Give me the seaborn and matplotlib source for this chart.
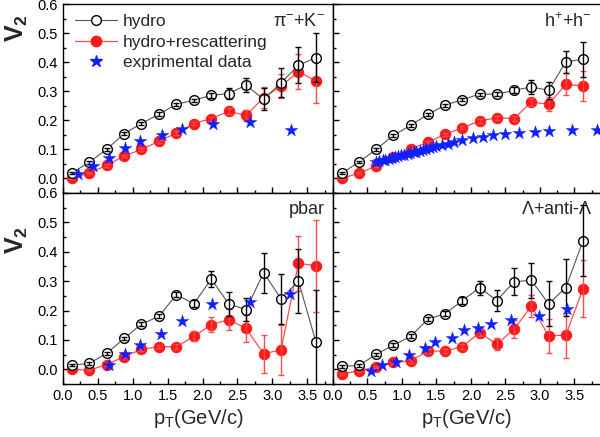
# v2 vs pT: hydro / hydro+rescattering / data, four particle species

import matplotlib
matplotlib.use("Agg")
import matplotlib.pyplot as plt
from matplotlib.lines import Line2D
from matplotlib.ticker import MultipleLocator, FormatStrFormatter
import seaborn as sns

# pT bin centres (GeV/c)
pt = [0.125, 0.375, 0.625, 0.875, 1.125, 1.375, 1.625, 1.875,
      2.125, 2.375, 2.625, 2.875, 3.125, 3.375, 3.625]

# pi- + K-
pik_hydro = [0.018, 0.056, 0.100, 0.154, 0.189, 0.221, 0.255, 0.269,
             0.286, 0.292, 0.321, 0.272, 0.329, 0.389, 0.416]
pik_hydro_err = [0.004, 0.005, 0.006, 0.006, 0.006, 0.006, 0.005, 0.006,
                 0.008, 0.018, 0.025, 0.038, 0.050, 0.062, 0.083]
pik_resc = [0.000, 0.018, 0.045, 0.077, 0.100, 0.128, 0.156, 0.189,
            0.206, 0.231, 0.217, 0.278, 0.318, 0.367, 0.336]
pik_resc_err = [0.003, 0.003, 0.004, 0.004, 0.005, 0.005, 0.006, 0.006,
                0.007, 0.010, 0.020, 0.035, 0.042, 0.060, 0.075]
pik_exp_x = [0.21, 0.43, 0.66, 0.89, 1.10, 1.42, 1.70, 2.15, 2.68, 3.27]
pik_exp = [0.016, 0.042, 0.071, 0.106, 0.128, 0.148, 0.171, 0.186, 0.194, 0.166]

# h+ + h-
h_hydro = [0.018, 0.056, 0.100, 0.148, 0.183, 0.220, 0.252, 0.271,
           0.290, 0.290, 0.303, 0.315, 0.303, 0.401, 0.410]
h_hydro_err = [0.004, 0.004, 0.005, 0.005, 0.005, 0.005, 0.005, 0.005,
               0.005, 0.006, 0.010, 0.023, 0.030, 0.037, 0.060]
h_resc = [0.000, 0.018, 0.042, 0.074, 0.102, 0.125, 0.152, 0.174,
          0.198, 0.209, 0.206, 0.263, 0.255, 0.324, 0.318]
h_resc_err = [0.003, 0.003, 0.003, 0.004, 0.004, 0.004, 0.005, 0.005,
              0.006, 0.007, 0.008, 0.013, 0.024, 0.037, 0.053]
h_exp_x = [0.63, 0.67, 0.72, 0.76, 0.81, 0.85, 0.90, 0.94, 0.99, 1.03,
           1.08, 1.12, 1.17, 1.21, 1.26, 1.30, 1.35, 1.40, 1.45, 1.50,
           1.58, 1.66, 1.75, 1.87, 2.03, 2.17, 2.32, 2.49, 2.69, 2.93,
           3.13, 3.47, 3.82]
h_exp = [0.056, 0.059, 0.062, 0.065, 0.068, 0.071, 0.073, 0.076, 0.079, 0.081,
         0.084, 0.087, 0.090, 0.092, 0.095, 0.098, 0.101, 0.104, 0.107, 0.110,
         0.115, 0.120, 0.124, 0.131, 0.138, 0.144, 0.150, 0.154, 0.157, 0.161,
         0.162, 0.165, 0.166]

# pbar
pbar_hydro = [0.014, 0.020, 0.054, 0.105, 0.154, 0.180, 0.254, 0.223,
              0.307, 0.223, 0.203, 0.329, 0.240, 0.300, 0.093]
pbar_hydro_err = [0.004, 0.004, 0.005, 0.006, 0.006, 0.007, 0.008, 0.012,
                  0.028, 0.041, 0.040, 0.068, 0.086, 0.109, 0.176]
pbar_resc = [0.000, -0.003, 0.016, 0.043, 0.068, 0.077, 0.077, 0.112,
             0.152, 0.169, 0.139, 0.053, 0.066, 0.361, 0.352]
pbar_resc_err = [0.003, 0.003, 0.004, 0.005, 0.005, 0.006, 0.008, 0.017,
                 0.025, 0.035, 0.046, 0.065, 0.085, 0.094, 0.157]
pbar_exp_x = [0.66, 0.89, 1.10, 1.41, 1.70, 2.14, 2.68, 3.26]
pbar_exp = [0.016, 0.053, 0.082, 0.120, 0.163, 0.223, 0.229, 0.255]

# Lambda + anti-Lambda
lam_hydro = [0.010, 0.013, 0.051, 0.082, 0.112, 0.171, 0.189, 0.234,
             0.278, 0.234, 0.298, 0.303, 0.223, 0.278, 0.438]
lam_hydro_err = [0.004, 0.004, 0.005, 0.006, 0.007, 0.007, 0.008, 0.012,
                 0.024, 0.035, 0.046, 0.060, 0.077, 0.096, 0.120]
lam_resc = [-0.016, -0.005, 0.008, 0.024, 0.028, 0.062, 0.062, 0.077,
            0.125, 0.085, 0.137, 0.215, 0.114, 0.116, 0.275]
lam_resc_err = [0.003, 0.004, 0.004, 0.005, 0.006, 0.006, 0.007, 0.008,
                0.012, 0.020, 0.030, 0.038, 0.057, 0.076, 0.098]
lam_exp_x = [0.55, 0.71, 0.91, 1.10, 1.33, 1.48, 1.72, 1.90, 2.10, 2.29, 2.58, 2.98, 3.39]
lam_exp = [-0.005, 0.014, 0.024, 0.048, 0.071, 0.093, 0.108, 0.133, 0.142,
           0.154, 0.168, 0.180, 0.206]

panel_labels = [r'$\pi^{-}$+K$^{-}$', r'h$^{+}$+h$^{-}$', 'pbar', r'$\Lambda$+anti-$\Lambda$']

sns.set_style("ticks")
plt.rcParams['font.family'] = ['Liberation Sans', 'DejaVu Sans']
plt.rcParams['mathtext.fontset'] = 'stix'
plt.rcParams['mathtext.default'] = 'regular'

fig = plt.figure(figsize=(6.0, 4.37), dpi=100)

L, M, R = 63 / 600, 333 / 600, 1.0
B, C, T = 53 / 437, 244 / 437, 433 / 437
ax_tl = fig.add_axes([L, C, M - L, T - C])
ax_tr = fig.add_axes([M, C, R - M, T - C])
ax_bl = fig.add_axes([L, B, M - L, C - B])
ax_br = fig.add_axes([M, B, R - M, C - B])

panels = [
    (ax_tl, pik_hydro, pik_hydro_err, pik_resc, pik_resc_err, pik_exp_x, pik_exp),
    (ax_tr, h_hydro, h_hydro_err, h_resc, h_resc_err, h_exp_x, h_exp),
    (ax_bl, pbar_hydro, pbar_hydro_err, pbar_resc, pbar_resc_err, pbar_exp_x, pbar_exp),
    (ax_br, lam_hydro, lam_hydro_err, lam_resc, lam_resc_err, lam_exp_x, lam_exp),
]

red = '#ff1a1a'
blue = '#1020ff'

for i, (ax, hy, hy_e, rs, rs_e, ex_x, ex) in enumerate(panels):
    # red curve
    sns.lineplot(x=pt, y=rs, ax=ax, color='#ff4a4a', linewidth=0.9, sort=False,
                 marker='o', markersize=7.5, markerfacecolor=red,
                 markeredgecolor=red, zorder=3)
    ax.errorbar(pt, rs, yerr=rs_e, fmt='none', ecolor='#ff4a4a',
                elinewidth=1.0, capsize=2.5, capthick=1.0, zorder=4)
    # hydro curve
    sns.lineplot(x=pt, y=hy, ax=ax, color='#555555', linewidth=0.8, sort=False,
                 marker='o', markersize=7, markerfacecolor='white',
                 markeredgecolor='black', markeredgewidth=1.0, zorder=5)
    ax.errorbar(pt, hy, yerr=hy_e, fmt='none', ecolor='black',
                elinewidth=1.0, capsize=2.5, capthick=1.0, zorder=6)
    # data
    sns.scatterplot(x=ex_x, y=ex, ax=ax, color=blue, marker='*', s=90,
                    edgecolor=blue, linewidth=0.3, zorder=7)

    ax.set_xlim(0, 3.87)
    ax.set_ylim(-0.05, 0.6)
    ax.xaxis.set_major_locator(MultipleLocator(0.5))
    ax.xaxis.set_minor_locator(MultipleLocator(0.25))
    ax.yaxis.set_major_locator(MultipleLocator(0.1))
    ax.yaxis.set_minor_locator(MultipleLocator(0.05))
    ax.tick_params(which='both', direction='in', labelsize=10.5, colors='black', width=1.0)
    ax.tick_params(which='major', length=4)
    ax.tick_params(which='minor', length=2.5)
    ax.xaxis.set_major_formatter(FormatStrFormatter('%.1f'))
    ax.yaxis.set_major_formatter(FormatStrFormatter('%.1f'))
    for sp in ax.spines.values():
        sp.set_visible(True)
        sp.set_color('black')
        sp.set_linewidth(1.0)
    if i in (0, 1):
        ax.tick_params(labelbottom=False)
    if i in (1, 3):
        ax.tick_params(labelleft=False)
        ax.spines['right'].set_visible(False)
    ax.set_xlabel('')
    ax.set_ylabel('')
    ax.text(0.97, 0.955 if i < 2 else 0.96, panel_labels[i], transform=ax.transAxes,
            ha='right', va='top', fontsize=13)

for ax in (ax_bl, ax_br):
    ax.set_xlabel('p$_T$(GeV/c)', fontsize=14.5, labelpad=3)

fig.text(17 / 600, 1 - 28 / 437, 'V$_2$', rotation=90, ha='center', va='center',
         fontsize=18, fontweight='bold')
fig.text(17 / 600, 1 - 240 / 437, 'V$_2$', rotation=90, ha='center', va='center',
         fontsize=18, fontweight='bold')

handles = [
    Line2D([], [], color='#555555', linewidth=0.8, marker='o', markersize=7,
           markerfacecolor='white', markeredgecolor='black'),
    Line2D([], [], color='#ff4a4a', linewidth=0.9, marker='o', markersize=7.5,
           markerfacecolor=red, markeredgecolor=red),
    Line2D([], [], linestyle='none', marker='*', markersize=9, color=blue),
]
ax_tl.legend(handles, ['hydro', 'hydro+rescattering', 'exprimental data'],
             loc='upper left', bbox_to_anchor=(0.0, 1.01), frameon=False,
             fontsize=12.5, handlelength=2.4, handletextpad=0.35, labelspacing=0.3,
             borderaxespad=0.3)

plt.savefig('out.png', dpi=100)
